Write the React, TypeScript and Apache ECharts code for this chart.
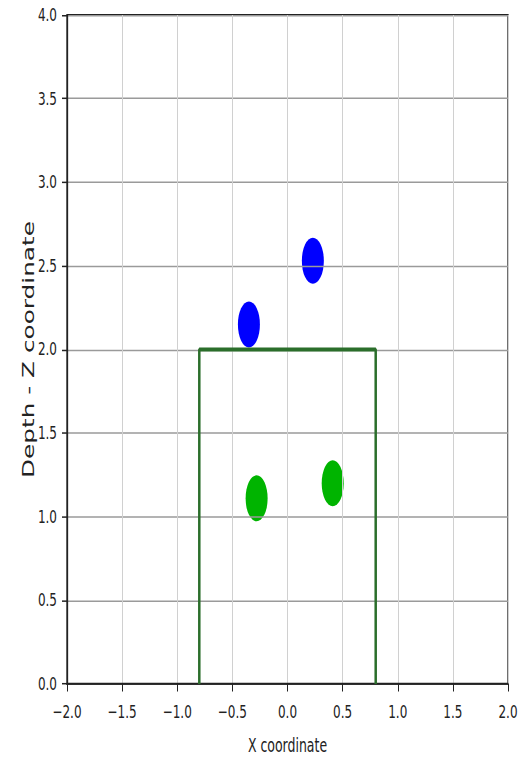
import React, { useEffect, useRef } from "react";
import * as echarts from "echarts";

const xTicks = [-2.0, -1.5, -1.0, -0.5, 0.0, 0.5, 1.0, 1.5, 2.0];
const yTicks = [0.0, 0.5, 1.0, 1.5, 2.0, 2.5, 3.0, 3.5, 4.0];
const blueX = [-0.35, 0.23];
const blueY = [2.15, 2.53];
const greenX = [-0.28, 0.41];
const greenY = [1.11, 1.2];
const rectX = [-0.8, -0.8, 0.8, 0.8];
const rectY = [0.0, 2.0, 2.0, 0.0];

const W = 521;
const H = 505;
const SY = 758 / H;

const ELLIPSE = "path://M1,0A1,1,0,1,1,-1,0A1,1,0,1,1,1,0Z";

function fmt(v: number) {
  const s = Math.abs(v).toFixed(1);
  return v < 0 ? "\u2212" + s : s;
}

export default function App() {
  const ref = useRef<HTMLDivElement>(null);
  useEffect(() => {
    if (!ref.current) return;
    const chart = echarts.init(ref.current, null, { renderer: "svg" });
    const font = "DejaVu Sans";
    chart.setOption({
      animation: false,
      backgroundColor: "#ffffff",
      grid: {
        left: 67,
        right: W - 508,
        top: 15 / SY,
        bottom: H - 684 / SY,
        containLabel: false,
        outerBoundsMode: "none",
        show: true,
        borderColor: "#222",
        borderWidth: 1.3,
        backgroundColor: "transparent",
      },
      xAxis: {
        type: "value",
        min: xTicks[0],
        max: xTicks[xTicks.length - 1],
        interval: 0.5,
        z: 3,
        name: "X coordinate",
        nameLocation: "middle",
        nameGap: 34.5,
        nameMoveOverlap: false,
        nameTextStyle: { fontFamily: font, fontSize: 12.5, lineHeight: 13, color: "#222" },
        axisLine: { show: true, onZero: false, lineStyle: { color: "#222", width: 1.3 } },
        axisTick: { show: true, length: 5, lineStyle: { color: "#222", width: 1 } },
        axisLabel: {
          fontFamily: font,
          fontSize: 12,
          color: "#222",
          margin: 13,
          showMinLabel: true,
          showMaxLabel: true,
          hideOverlap: false,
          formatter: (v: number) => fmt(v),
        },
        splitLine: { show: true, lineStyle: { color: "#d0d0d0", width: 1 } },
      },
      yAxis: {
        type: "value",
        min: yTicks[0],
        max: yTicks[yTicks.length - 1],
        interval: 0.5,
        z: 3,
        name: "Depth - Z coordinate",
        nameLocation: "middle",
        nameGap: 30,
        nameMoveOverlap: false,
        nameTextStyle: { fontFamily: font, fontSize: 16.5, color: "#222" },
        axisLine: { show: true, onZero: false, lineStyle: { color: "#222", width: 1.3 } },
        axisTick: { show: true, length: 5, lineStyle: { color: "#222", width: 1 } },
        axisLabel: {
          fontFamily: font,
          fontSize: 12,
          color: "#222",
          margin: 10,
          showMinLabel: true,
          showMaxLabel: true,
          hideOverlap: false,
          formatter: (v: number) => fmt(v),
        },
        splitLine: { show: true, lineStyle: { color: "#9a9a9a", width: 1 } },
      },
      series: [
        {
          type: "scatter",
          z: 1,
          symbol: ELLIPSE,
          symbolSize: [22, 46 / SY],
          itemStyle: { color: "#0000ff", opacity: 1 },
          data: blueX.map((x, i) => [x, blueY[i]]),
        },
        {
          type: "scatter",
          z: 1,
          symbol: ELLIPSE,
          symbolSize: [22, 46 / SY],
          itemStyle: { color: "#00b400", opacity: 1 },
          data: greenX.map((x, i) => [x, greenY[i]]),
        },
        {
          type: "line",
          z: 5,
          showSymbol: false,
          symbol: "none",
          lineStyle: { color: "#2b6e2b", width: 2.5 },
          data: rectX.map((x, i) => [x, rectY[i]]),
        },
      ],
    });
    return () => chart.dispose();
  }, []);
  return (
    <div
      ref={ref}
      style={{
        position: "absolute",
        left: 0,
        top: 0,
        width: W,
        height: H,
        transform: `scaleY(${SY})`,
        transformOrigin: "0 0",
      }}
    />
  );
}
